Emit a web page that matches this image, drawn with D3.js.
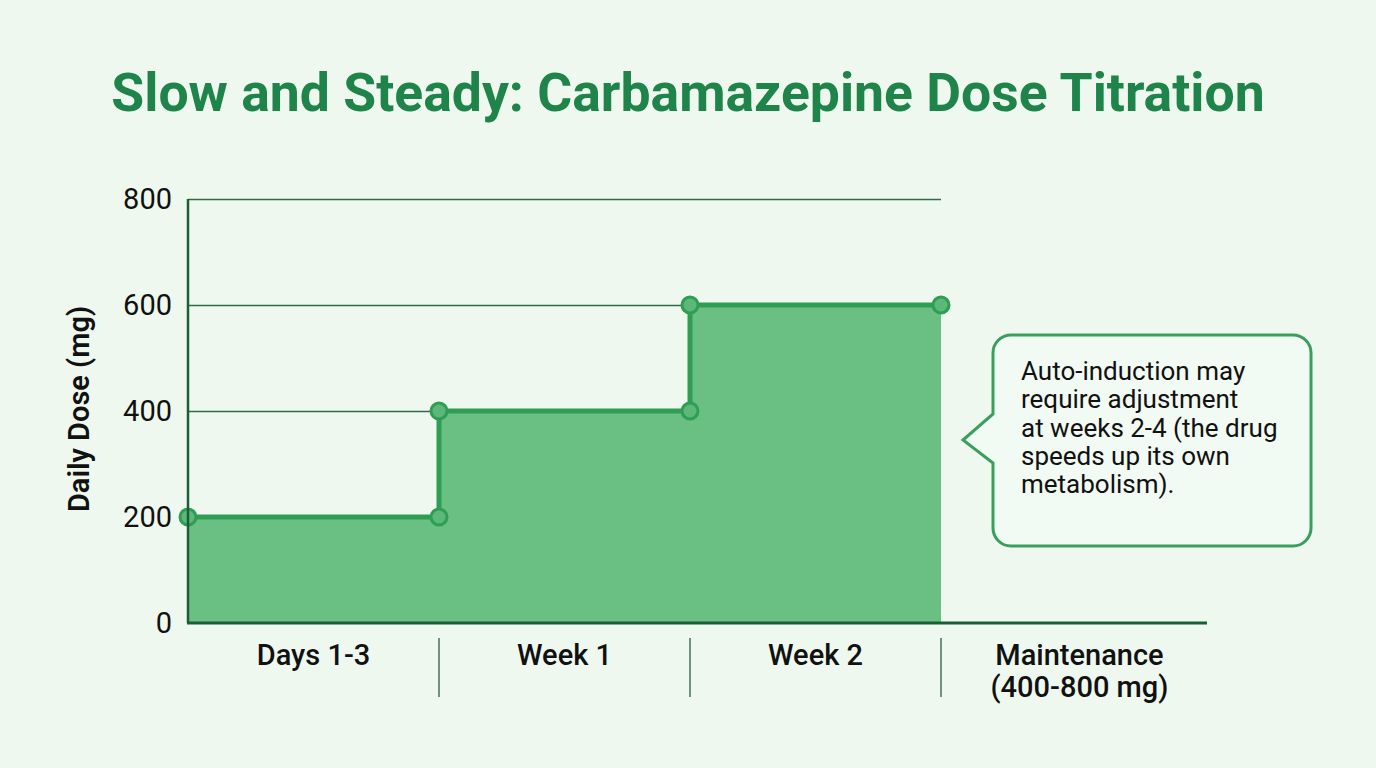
<!DOCTYPE html>
<html>
<head>
<meta charset="utf-8">
<script src="https://d3js.org/d3.v7.min.js"></script>
<style>
  body { margin: 0; background: #eef8ef; }
  svg { display: block; font-family: Roboto, "Liberation Sans", sans-serif; }
</style>
</head>
<body>
<svg id="chart" width="1376" height="768"></svg>
<script>
// data
var categories = ["Days 1-3", "Week 1", "Week 2", "Maintenance"];
var catLabels = [["Days 1-3"], ["Week 1"], ["Week 2"], ["Maintenance", "(400-800 mg)"]];
var doses = [200, 400, 600];            // step values for the first three phases
var yTicks = [0, 200, 400, 600, 800];
var noteLines = ["Auto-induction may", "require adjustment", "at weeks 2-4 (the drug", "speeds up its own", "metabolism)."];

var svg = d3.select("#chart");
var mLeft = 188, mRight = 1192, mTop = 199, mBottom = 623;

var x = d3.scaleBand().domain(categories).range([mLeft, mRight]).padding(0);
var y = d3.scaleLinear().domain([0, 800]).range([mBottom, mTop]);

// title
svg.append("text")
  .attr("x", 688).attr("y", 111)
  .attr("text-anchor", "middle")
  .style("font-size", "53.5px").style("font-weight", "bold")
  .style("fill", "#1e8449")
  .text("Slow and Steady: Carbamazepine Dose Titration");

// grid
var gridEnd = x("Week 2") + x.bandwidth();
svg.append("g").selectAll("line").data(yTicks.filter(function(d){ return d > 0; }))
  .enter().append("line")
  .attr("x1", mLeft).attr("x2", gridEnd)
  .attr("y1", function(d){ return y(d) + 0.5; }).attr("y2", function(d){ return y(d) + 0.5; })
  .attr("stroke", "#2f6e45").attr("stroke-width", 1.3);

// step series: each phase from its band start to band end
var pts = [];
doses.forEach(function(d, i) {
  var c = categories[i];
  pts.push([x(c), d]);
  pts.push([x(c) + x.bandwidth(), d]);
});

var area = d3.area()
  .x(function(d){ return d[0]; })
  .y0(y(0)).y1(function(d){ return y(d[1]); });
svg.append("path").datum(pts)
  .attr("d", area)
  .attr("fill", "#6abf83");

var line = d3.line()
  .x(function(d){ return d[0]; })
  .y(function(d){ return y(d[1]); });
svg.append("path").datum(pts)
  .attr("d", line)
  .attr("fill", "none")
  .attr("stroke", "#2e9e55").attr("stroke-width", 5)
  .attr("stroke-linejoin", "round");

svg.append("g").selectAll("circle").data(pts)
  .enter().append("circle")
  .attr("cx", function(d){ return d[0]; })
  .attr("cy", function(d){ return y(d[1]); })
  .attr("r", 8)
  .attr("fill", "#5cb878")
  .attr("stroke", "#2e9e55").attr("stroke-width", 3);

// axes
svg.append("line")
  .attr("x1", mLeft).attr("x2", mLeft).attr("y1", mTop).attr("y2", mBottom)
  .attr("stroke", "#1b5e35").attr("stroke-width", 2.5);
svg.append("line")
  .attr("x1", mLeft - 1).attr("x2", 1207).attr("y1", mBottom).attr("y2", mBottom)
  .attr("stroke", "#1b5e35").attr("stroke-width", 3);

svg.append("g").selectAll("text").data(yTicks)
  .enter().append("text")
  .attr("x", 172).attr("y", function(d){ return y(d); })
  .attr("dy", "0.36em")
  .attr("text-anchor", "end")
  .style("font-size", "29px").style("fill", "#111")
  .text(function(d){ return d; });

svg.append("text")
  .attr("transform", "translate(89," + (y(400) - 2) + ") rotate(-90)")
  .attr("text-anchor", "middle")
  .style("font-size", "29px").style("font-weight", 600).style("fill", "#111")
  .text("Daily Dose (mg)");

// category separators & labels
svg.append("g").selectAll("line").data(categories.slice(1))
  .enter().append("line")
  .attr("x1", function(d){ return x(d); }).attr("x2", function(d){ return x(d); })
  .attr("y1", 638).attr("y2", 697)
  .attr("stroke", "#1d4d2e").attr("stroke-width", 1.2);

var lab = svg.append("g").selectAll("text").data(categories)
  .enter().append("text")
  .attr("x", function(d){ return x(d) + x.bandwidth() / 2 + (d === "Maintenance" ? 13 : 0); })
  .attr("y", 665)
  .attr("text-anchor", "middle")
  .style("font-size", "29px").style("font-weight", 500).style("fill", "#111");
lab.each(function(d, i) {
  var t = d3.select(this);
  catLabels[i].forEach(function(s, j) {
    t.append("tspan").attr("x", t.attr("x")).attr("dy", j ? 32 : 0).text(s);
  });
});

// callout
var bx = 993, by = 335, bw = 318, bh = 211, r = 18;
var tipX = 963, tipY = 440, b1 = 414, b2 = 463;
var p = d3.path();
p.moveTo(bx + r, by);
p.lineTo(bx + bw - r, by);
p.arcTo(bx + bw, by, bx + bw, by + r, r);
p.lineTo(bx + bw, by + bh - r);
p.arcTo(bx + bw, by + bh, bx + bw - r, by + bh, r);
p.lineTo(bx + r, by + bh);
p.arcTo(bx, by + bh, bx, by + bh - r, r);
p.lineTo(bx, b2);
p.lineTo(tipX, tipY);
p.lineTo(bx, b1);
p.lineTo(bx, by + r);
p.arcTo(bx, by, bx + r, by, r);
p.closePath();
svg.append("path")
  .attr("d", p.toString())
  .attr("fill", "#f1faf3")
  .attr("stroke", "#3a9f5c").attr("stroke-width", 3)
  .attr("stroke-linejoin", "miter");

svg.append("g").selectAll("text").data(noteLines)
  .enter().append("text")
  .attr("x", 1021)
  .attr("y", function(d, i){ return 380 + i * 28.3; })
  .style("font-size", "26px").style("fill", "#111")
  .text(function(d){ return d; });
</script>
</body>
</html>
